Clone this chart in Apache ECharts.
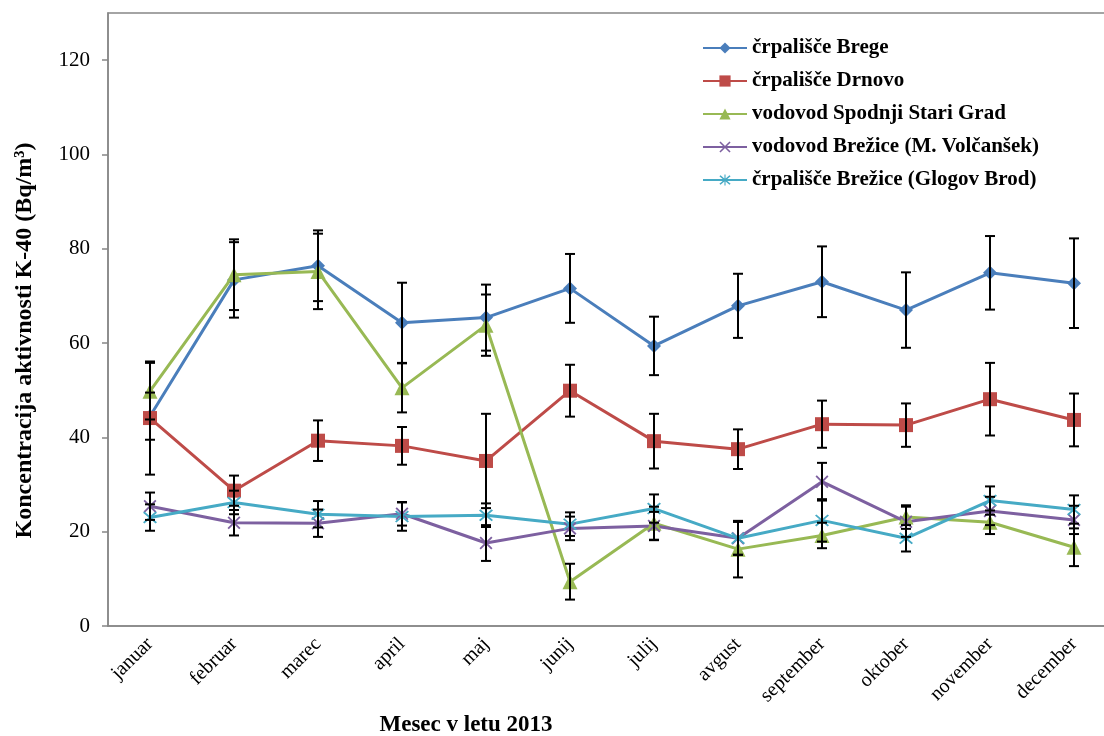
<!DOCTYPE html>
<html>
<head>
<meta charset="utf-8">
<script src="https://cdn.jsdelivr.net/npm/echarts@6/dist/echarts.min.js"></script>
<style>html,body{margin:0;padding:0;background:#fff}#c{width:1104px;height:736px}</style>
</head>
<body>
<div id="c"></div>
<script>
const months = ['januar','februar','marec','april','maj','junij','julij','avgust','september','oktober','november','december'];
const yTicks = [0,20,40,60,80,100,120];
const seriesNames = ['črpališče Brege','črpališče Drnovo','vodovod Spodnji Stari Grad','vodovod Brežice (M. Volčanšek)','črpališče Brežice (Glogov Brod)'];
const brege = [44.5, 73.4, 76.4, 64.3, 65.4, 71.6, 59.4, 67.9, 73.0, 67.0, 74.9, 72.7];
const bregeErr = [5, 8, 7.5, 8.5, 7, 7.3, 6.2, 6.8, 7.5, 8, 7.8, 9.5];
const drnovo = [44.1, 28.7, 39.3, 38.2, 35.0, 49.9, 39.2, 37.5, 42.8, 42.6, 48.1, 43.7];
const drnovoErr = [12, 3.2, 4.3, 4, 10, 5.5, 5.8, 4.2, 5, 4.6, 7.7, 5.6];
const spodnji = [49.8, 74.5, 75.2, 50.5, 63.8, 9.4, 21.8, 16.3, 19.2, 23.1, 22.0, 16.7];
const spodnjiErr = [6, 7.5, 8, 5.2, 6.5, 3.8, 3.5, 6, 2.7, 2.5, 2.5, 4];
const volcansek = [25.4, 21.9, 21.8, 23.8, 17.6, 20.7, 21.2, 18.6, 30.6, 22.1, 24.4, 22.5];
const volcansekErr = [2.9, 2.7, 2.9, 2.5, 3.8, 2.5, 3, 3.5, 4, 3.2, 3, 3];
const glogov = [23.0, 26.2, 23.7, 23.2, 23.5, 21.6, 24.9, 18.6, 22.4, 18.6, 26.6, 24.7];
const glogovErr = [2.8, 2.5, 2.8, 3, 2.5, 2.5, 3, 3.5, 4.5, 2.8, 3, 3];

const colors = ['#4A7EBB','#BE4B48','#98B954','#7D60A0','#46AAC5'];
const xSym = 'path://M0,1.2 L1.2,0 L12,10.8 L10.8,12 Z M10.8,0 L12,1.2 L1.2,12 L0,10.8 Z';
const starSym = 'path://M0,1.2 L1.2,0 L12,10.8 L10.8,12 Z M10.8,0 L12,1.2 L1.2,12 L0,10.8 Z M5.4,-1 L6.6,-1 L6.6,13 L5.4,13 Z';
const symbols = ['diamond','rect','triangle',xSym,starSym];
const sizes = [14,14,15,13,14];
const vals = [brege, drnovo, spodnji, volcansek, glogov];
const errs = [bregeErr, drnovoErr, spodnjiErr, volcansekErr, glogovErr];

const series = [];
vals.forEach((v, i) => {
  series.push({
    name: seriesNames[i], type: 'line', data: v,
    symbol: symbols[i], symbolSize: sizes[i],
    lineStyle: {color: colors[i], width: 3},
    itemStyle: {color: colors[i]},
    z: 3
  });
});
vals.forEach((v, i) => {
  const d = v.map((y, k) => [k, y - errs[i][k], y + errs[i][k]]);
  series.push({
    type: 'custom', data: d, z: 4, silent: true,
    renderItem: function (params, api) {
      const x = api.value(0);
      const lo = api.coord([x, api.value(1)]);
      const hi = api.coord([x, api.value(2)]);
      const w = 5;
      const st = {stroke: '#000', lineWidth: 2};
      return {type: 'group', children: [
        {type: 'line', shape: {x1: lo[0], y1: lo[1], x2: hi[0], y2: hi[1]}, style: st},
        {type: 'line', shape: {x1: lo[0]-w, y1: lo[1], x2: lo[0]+w, y2: lo[1]}, style: st},
        {type: 'line', shape: {x1: hi[0]-w, y1: hi[1], x2: hi[0]+w, y2: hi[1]}, style: st}
      ]};
    }
  });
});

const chart = echarts.init(document.getElementById('c'));
chart.setOption({
  animation: false,
  backgroundColor: '#fff',
  textStyle: {fontFamily: 'Liberation Serif'},
  grid: {left: 108, top: 13, width: 1008, height: 613, containLabel: false, outerBoundsMode: 'none', show: true, borderColor: '#878787', borderWidth: 1.5},
  legend: {
    orient: 'vertical', left: 702, top: 37.5, padding: 0, itemWidth: 44, itemHeight: 14, itemGap: 12,
    data: seriesNames,
    textStyle: {fontFamily: 'Liberation Serif', fontWeight: 'bold', fontSize: 21, color: '#000'}
  },
  xAxis: {
    type: 'category', data: months, boundaryGap: true,
    name: 'Mesec v letu 2013', nameLocation: 'middle', nameGap: 87,
    nameTextStyle: {fontFamily: 'Liberation Serif', fontWeight: 'bold', fontSize: 23, color: '#000', padding: [0, 292, 0, 0]},
    axisLine: {lineStyle: {color: '#878787', width: 1.5}},
    axisTick: {length: 6, lineStyle: {color: '#878787', width: 1.5}},
    axisLabel: {rotate: 45, fontSize: 20, color: '#000', margin: 15, fontFamily: 'Liberation Serif'},
    splitLine: {show: false}
  },
  yAxis: {
    type: 'value', min: 0, max: 130, interval: 20,
    name: 'Koncentracija aktivnosti K-40 (Bq/m³)', nameLocation: 'middle', nameGap: 71,
    nameTextStyle: {fontFamily: 'Liberation Serif', fontWeight: 'bold', fontSize: 24, color: '#000', padding: [0, 42, 0, 0]},
    axisLine: {show: true, lineStyle: {color: '#878787', width: 1.5}},
    axisTick: {show: true, length: 6, customValues: yTicks, lineStyle: {color: '#878787', width: 1.5}},
    axisLabel: {customValues: yTicks, fontSize: 21, color: '#000', margin: 18, fontFamily: 'Liberation Serif'},
    splitLine: {show: false}
  },
  series: series
});
</script>
</body>
</html>
